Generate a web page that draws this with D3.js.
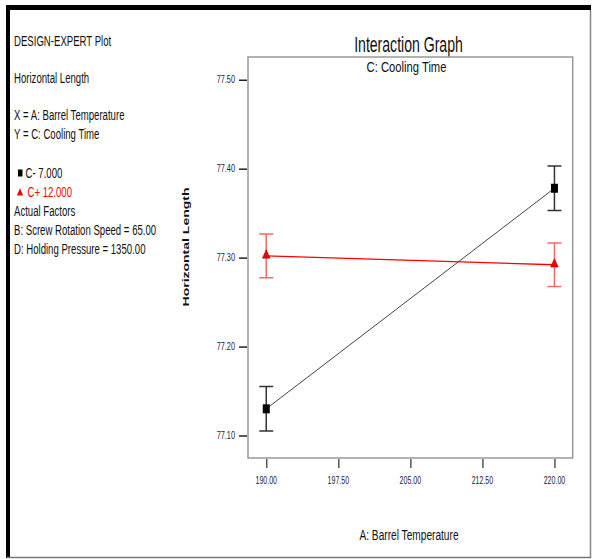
<!DOCTYPE html>
<html>
<head>
<meta charset="utf-8">
<script src="https://cdn.jsdelivr.net/npm/d3@7"></script>
<style>
  html, body { margin: 0; padding: 0; background: #fff; }
  svg { display: block; }
</style>
</head>
<body>
<div id="chart"></div>
<script>
// factor levels and predicted means
const barrelTemp = [190, 220];
const coolLowMeans = [77.130, 77.378];    // C- 7.000
const coolHighMeans = [77.302, 77.292];   // C+ 12.000
const coolLowLsd = [0.025, 0.025];
const coolHighLsd = [0.0245, 0.0245];
const xTicks = [190, 197.5, 205, 212.5, 220];
const yTicks = [77.10, 77.20, 77.30, 77.40, 77.50];
const infoLines = [
    'DESIGN-EXPERT Plot',
    '',
    'Horizontal Length',
    '',
    'X = A: Barrel Temperature',
    'Y = C: Cooling Time'
];
const factorLines = [
    'Actual Factors',
    'B: Screw Rotation Speed = 65.00',
    'D: Holding Pressure = 1350.00'
];

const width = 592;
const height = 559;
const frame = { left: 248, top: 57, right: 572.7, bottom: 458 };

const svg = d3.select('#chart').append('svg')
    .attr('width', width)
    .attr('height', height)
    .style('font-family', 'Liberation Sans, Arial, sans-serif');

svg.append('rect')
    .attr('width', width)
    .attr('height', height)
    .attr('fill', '#fff');

// squeezed text, the picture is narrower than its fonts
function label(parent, x, y, str, size, sx, anchor, fill) {
    return parent.append('text')
        .attr('transform', `translate(${x},${y}) scale(${sx},1)`)
        .attr('text-anchor', anchor || 'start')
        .attr('font-size', size)
        .attr('fill', fill || '#111')
        .text(str);
}

// outer border
svg.append('line').attr('x1', 7).attr('x2', 591).attr('y1', 7.5).attr('y2', 7.5)
    .attr('stroke', '#000').attr('stroke-width', 5);
svg.append('line').attr('x1', 8).attr('x2', 8).attr('y1', 5).attr('y2', 558)
    .attr('stroke', '#000').attr('stroke-width', 4);
svg.append('line').attr('x1', 590.5).attr('x2', 590.5).attr('y1', 10).attr('y2', 558)
    .attr('stroke', '#888').attr('stroke-width', 1.5);
svg.append('line').attr('x1', 7).attr('x2', 591).attr('y1', 557.5).attr('y2', 557.5)
    .attr('stroke', '#777').attr('stroke-width', 1.5);

// left info block
const infoSize = 15.5, infoSx = 0.62;
infoLines.forEach((t, i) => {
    if (t) label(svg, 14, 45.5 + i * 18.7, t, infoSize, infoSx);
});
svg.append('rect').attr('x', 18).attr('y', 169.5).attr('width', 4.5).attr('height', 7).attr('fill', '#000');
label(svg, 25.5, 177.5, 'C- 7.000', infoSize, infoSx);
svg.append('path')
    .attr('d', d3.symbol(d3.symbolTriangle, 30)())
    .attr('transform', 'translate(20,193) scale(0.75,1)')
    .attr('fill', '#e00');
label(svg, 27.5, 196.5, 'C+ 12.000', infoSize, infoSx, 'start', '#f00');
factorLines.forEach((t, i) => {
    label(svg, 14, 215.5 + i * 19, t, infoSize, infoSx);
});

// titles
label(svg, 408.5, 51.5, 'Interaction Graph', 22, 0.64, 'middle');
label(svg, 406.5, 72, 'C: Cooling Time', 15, 0.75, 'middle');
label(svg, 409, 540, 'A: Barrel Temperature', 15.5, 0.655, 'middle');

svg.append('text')
    .attr('transform', 'translate(188.5,247) rotate(-90) scale(1,0.7)')
    .attr('text-anchor', 'middle')
    .attr('font-size', 14)
    .attr('font-weight', 'bold')
    .attr('fill', '#111')
    .text('Horizontal Length');

// scales
const x = d3.scaleLinear().domain([188.1, 221.9]).range([frame.left, frame.right]);
const y = d3.scaleLinear().domain([77.0747, 77.5256]).range([frame.bottom, frame.top]);

// frame
svg.append('rect')
    .attr('x', frame.left)
    .attr('y', frame.top)
    .attr('width', frame.right - frame.left)
    .attr('height', frame.bottom - frame.top)
    .attr('fill', 'none')
    .attr('stroke', '#999')
    .attr('stroke-width', 1.5);

// axes
const yAxis = svg.append('g')
    .attr('transform', `translate(${frame.left - 1},0)`)
    .call(d3.axisLeft(y).tickValues(yTicks).tickSize(8).tickFormat(''));
yAxis.select('.domain').remove();
yAxis.selectAll('line').attr('stroke', '#222').attr('stroke-width', 1.5);
yTicks.forEach(v => label(svg, 235, y(v) + 3.5, d3.format('.2f')(v), 10.5, 0.7, 'end', '#223'));

const xAxis = svg.append('g')
    .attr('transform', `translate(0,${frame.bottom + 1})`)
    .call(d3.axisBottom(x).tickValues(xTicks).tickSize(9).tickFormat(''));
xAxis.select('.domain').remove();
xAxis.selectAll('line').attr('stroke', '#555').attr('stroke-width', 1.5);
xTicks.forEach(v => label(svg, x(v), 483.5, d3.format('.2f')(v), 10.5, 0.67, 'middle', '#223'));

// series
const series = [
    { means: coolLowMeans, lsd: coolLowLsd, line: '#444', bar: '#333', marker: 'square' },
    { means: coolHighMeans, lsd: coolHighLsd, line: '#f00', bar: '#f66', marker: 'triangle' }
];

const line = d3.line().x(d => x(d[0])).y(d => y(d[1]));

series.forEach(s => {
    const pts = barrelTemp.map((t, i) => [t, s.means[i], s.lsd[i]]);
    const g = svg.append('g');

    g.append('path')
        .datum(pts)
        .attr('d', line)
        .attr('fill', 'none')
        .attr('stroke', s.line)
        .attr('stroke-width', s.marker === 'square' ? 1 : 1.3);

    g.selectAll('.bar').data(pts).enter().append('path')
        .attr('d', d => {
            const cx = x(d[0]);
            const hi = y(d[1] + d[2]);
            const lo = y(d[1] - d[2]);
            return `M${cx - 7},${hi}H${cx + 7}M${cx},${hi}V${lo}M${cx - 7},${lo}H${cx + 7}`;
        })
        .attr('fill', 'none')
        .attr('stroke', s.bar)
        .attr('stroke-width', 1.5);

    if (s.marker === 'square') {
        g.selectAll('.pt').data(pts).enter().append('rect')
            .attr('x', d => x(d[0]) - 3.5)
            .attr('y', d => y(d[1]) - 4.5)
            .attr('width', 7)
            .attr('height', 9)
            .attr('fill', '#000');
    } else {
        g.selectAll('.pt').data(pts).enter().append('path')
            .attr('d', d3.symbol(d3.symbolTriangle, 40)())
            .attr('transform', d => `translate(${x(d[0])},${y(d[1]) - 0.5}) scale(0.8,1)`)
            .attr('fill', '#e00')
            .attr('stroke', '#900')
            .attr('stroke-width', 0.6);
    }
});
</script>
</body>
</html>
